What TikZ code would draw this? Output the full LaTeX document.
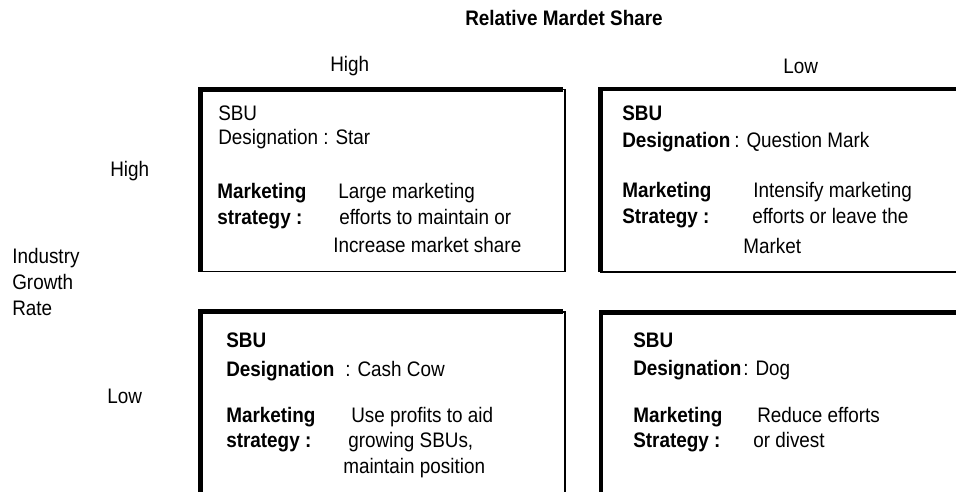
\documentclass[tikz,border=0pt]{standalone}
\usepackage{fontspec}
\setmainfont{Liberation Sans}[FakeStretch=0.9]
\begin{document}
\begin{tikzpicture}[x=0.75pt,y=0.75pt,yscale=-1,xscale=1,
		txt/.style={anchor=base west,inner sep=0pt,font=\fontsize{15.75}{18}\selectfont},
		bold/.style={txt,font=\fontsize{15.75}{18}\selectfont\bfseries},
		thinedge/.style={line width=1.1pt},
		thickedge/.style={line width=3.6pt}]
			\useasboundingbox (0,0) rectangle (956,492);
			\clip (0,0) rectangle (956,492);
			% boxes
			\draw [thinedge] (200,89.5) rectangle (565,271.5) ;
			\draw [thickedge] (200.5,271.5) -- (200.5,89.5) -- (563,89.5) ;
			\draw [thinedge] (601,89.5) rectangle (990,272) ;
			\draw [thickedge] (600.5,272) -- (600.5,89) -- (990,89) ;
			\draw [thinedge] (200,312) rectangle (565,520) ;
			\draw [thickedge] (200.5,520) -- (200.5,311.5) -- (563,311.5) ;
			\draw [thinedge] (601,313) rectangle (990,520) ;
			\draw [thickedge] (601,520) -- (601,312.5) -- (990,312.5) ;
			% axis labels
			\node (title) [bold,anchor=base] at (564,26) {Relative Mardet Share};
			\node (colhigh) [txt] at (330,72) {High};
			\node (collow) [txt] at (783,74) {Low};
			\node (rowhigh) [txt] at (110,176) {High};
			\node (rowlow) [txt] at (107,403) {Low};
			\node (igr1) [txt] at (12,263) {Industry};
			\node (igr2) [txt] at (12,289) {Growth};
			\node (igr3) [txt] at (12,315) {Rate};
			% star
			\node (starsbu) [txt] at (218,120) {SBU};
			\node (stardes) [txt] at (218,144) {Designation : Star};
			\node (starmk1) [bold] at (217,198) {Marketing};
			\node (starmk2) [bold] at (217,224) {strategy :};
			\node (starst1) [txt] at (338,198) {Large marketing};
			\node (starst2) [txt] at (339,224) {efforts to maintain or};
			\node (starst3) [txt] at (333,252) {Increase market share};
			% question mark
			\node (qmsbu) [bold] at (622,120) {SBU};
			\node (qmdes) [bold] at (622,147) {Designation};
			\node (qmname) [txt] at (734,147) {: Question Mark};
			\node (qmmk1) [bold] at (622,197) {Marketing};
			\node (qmmk2) [bold] at (622,223) {Strategy :};
			\node (qmst1) [txt] at (753,197) {Intensify marketing};
			\node (qmst2) [txt] at (752,223) {efforts or leave the};
			\node (qmst3) [txt] at (743,253) {Market};
			% cash cow
			\node (cowsbu) [bold] at (226,347) {SBU};
			\node (cowdes) [bold] at (226,376) {Designation};
			\node (cowname) [txt] at (345,376) {: Cash Cow};
			\node (cowmk1) [bold] at (226,422) {Marketing};
			\node (cowmk2) [bold] at (226,447) {strategy :};
			\node (cowst1) [txt] at (351,422) {Use profits to aid};
			\node (cowst2) [txt] at (348,447) {growing SBUs,};
			\node (cowst3) [txt] at (343,473) {maintain position};
			% dog
			\node (dogsbu) [bold] at (633,347) {SBU};
			\node (dogdes) [bold] at (633,375) {Designation};
			\node (dogname) [txt] at (743,375) {: Dog};
			\node (dogmk1) [bold] at (633,422) {Marketing};
			\node (dogmk2) [bold] at (633,447) {Strategy :};
			\node (dogst1) [txt] at (757,422) {Reduce efforts};
			\node (dogst2) [txt] at (753,447) {or divest};
	\end{tikzpicture}
\end{document}
